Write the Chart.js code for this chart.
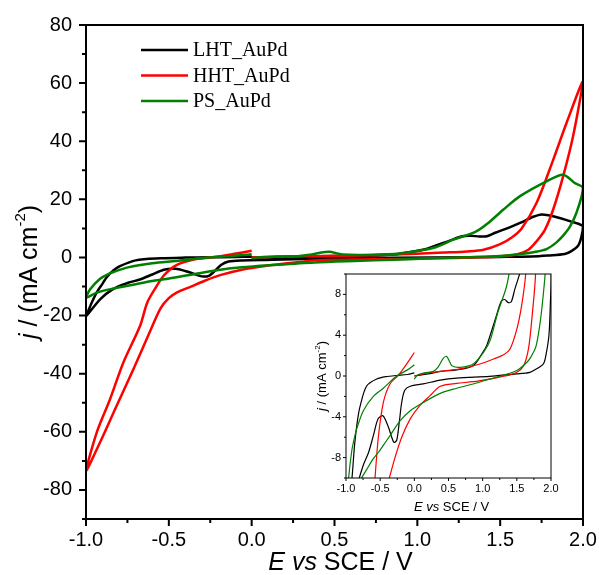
<!DOCTYPE html>
<html>
<head>
<meta charset="utf-8">
<script src="https://cdn.jsdelivr.net/npm/chart.js@4.4.0/dist/chart.umd.min.js"></script>
<style>
  body { margin: 0; background: #fff; }
  #wrap { position: relative; width: 599px; height: 575px; }
  #main { position: absolute; left: 0; top: 0; }
  #inset { position: absolute; left: 296px; top: 266px; background: #fff; }
</style>
</head>
<body>
<div id="wrap">
  <canvas id="main" width="599" height="575"></canvas>
  <canvas id="inset" width="264" height="248"></canvas>
</div>
<script>
// cyclic voltammograms: start at 0 V, scan to 2.0 V, back to -1.0 V, then up to 0 V
const lhtE = [0.0, 0.2, 0.38, 0.62, 0.86, 1.0, 1.06, 1.2, 1.27, 1.32, 1.375, 1.42, 1.47, 1.55, 1.62, 1.7, 1.75, 1.82, 1.92, 2.0,
  1.99, 1.97, 1.93, 1.89, 1.79, 1.69, 1.5, 1.1, 0.62, 0.38, 0.13, -0.06, -0.14, -0.185, -0.22, -0.258, -0.3, -0.38, -0.46, -0.53, -0.6, -0.67, -0.75, -0.835, -0.915, -1.0,
  -0.965, -0.935, -0.9, -0.875, -0.835, -0.795, -0.7, -0.55, -0.4, -0.26, -0.1, 0.0];
const lhtJ = [0.0, 0.2, 0.45, 0.6, 1.0, 2.3, 3.0, 5.9, 7.3, 7.5, 7.2, 7.3, 8.5, 10.2, 11.9, 14.0, 14.8, 14.2, 12.5, 10.7,
  7.0, 4.0, 2.2, 1.2, 0.7, 0.36, 0.2, -0.03, -0.2, -0.4, -0.78, -1.0, -1.4, -2.6, -4.5, -6.3, -6.5, -5.0, -3.9, -4.2, -5.85, -7.5, -8.8, -10.8, -14.4, -20.2,
  -15.5, -12.0, -9.0, -6.8, -4.5, -3.0, -1.0, -0.3, -0.05, 0.05, 0.15, 0.3];

const hhtE = [0.0, 0.2, 0.38, 0.67, 0.96, 1.16, 1.3, 1.4, 1.5, 1.57, 1.63, 1.72, 1.82, 1.9, 2.0,
  1.94, 1.88, 1.82, 1.77, 1.72, 1.67, 1.6, 1.5, 1.35, 1.1, 0.86, 0.62, 0.38, 0.23, 0.08, -0.06, -0.185, -0.283, -0.366, -0.45, -0.5, -0.55, -0.614, -0.714, -0.815, -0.915, -1.0,
  -0.935, -0.855, -0.775, -0.674, -0.63, -0.575, -0.527, -0.454, -0.356, -0.234, -0.112, 0.0];
const hhtJ = [0.0, 0.3, 0.45, 0.69, 1.18, 1.67, 2.06, 2.65, 4.6, 6.9, 10.0, 18.8, 33.6, 46.2, 60.5,
  41.7, 27.9, 16.5, 9.5, 5.6, 2.65, 1.0, 0.36, 0.03, -0.3, -0.56, -0.72, -1.0, -1.93, -2.9, -4.2, -6.0, -8.0, -10.0, -12.0, -14.0, -17.5, -25.5, -38.5, -51.0, -63.6, -73.4,
  -60.2, -48.8, -36.2, -23.6, -15.5, -10.0, -6.0, -2.6, -0.78, 0.07, 1.18, 2.3];

const psE = [0.0, 0.05, 0.15, 0.28, 0.35, 0.42, 0.47, 0.51, 0.55, 0.67, 0.86, 1.01, 1.11, 1.22, 1.35, 1.42, 1.52, 1.62, 1.78, 1.88, 1.95, 2.0,
  1.96, 1.92, 1.88, 1.84, 1.78, 1.7, 1.64, 1.5, 1.3, 1.1, 0.86, 0.62, 0.38, 0.13, -0.06, -0.21, -0.356, -0.454, -0.527, -0.6, -0.7, -0.835, -0.935, -1.0,
  -0.976, -0.915, -0.868, -0.835, -0.746, -0.6, -0.454, -0.258, -0.1, 0.0];
const psJ = [-0.3, 0.1, 0.3, 0.46, 0.9, 1.7, 1.93, 1.5, 1.0, 0.85, 1.18, 2.3, 3.5, 6.2, 8.8, 11.5, 16.5, 21.1, 26.2, 28.5, 25.6, 23.9,
  15.3, 10.5, 7.5, 5.2, 2.9, 1.8, 1.3, 0.53, 0.07, -0.3, -0.78, -1.2, -1.7, -2.6, -3.4, -4.4, -5.85, -6.8, -7.5, -8.1, -9.2, -10.7, -12.1, -13.8,
  -11.0, -7.3, -5.8, -5.0, -3.4, -2.0, -1.2, 0.0, 0.6, 1.1];

const seriesNames = ['LHT_AuPd', 'HHT_AuPd', 'PS_AuPd'];
const seriesColors = ['#000000', '#ff0000', '#008000'];

const mainXTicks = [-1.0, -0.5, 0.0, 0.5, 1.0, 1.5, 2.0];
const mainYTicks = [-80, -60, -40, -20, 0, 20, 40, 60, 80];
const insetXTicks = [-1.0, -0.5, 0.0, 0.5, 1.0, 1.5, 2.0];
const insetYTicks = [-8, -4, 0, 4, 8];

function pairs(e, j) {
  return e.map((v, i) => ({ x: v, y: j[i] }));
}

function makeDatasets(width) {
  const data = [pairs(lhtE, lhtJ), pairs(hhtE, hhtJ), pairs(psE, psJ)];
  return data.map((d, i) => ({
    label: seriesNames[i],
    data: d,
    showLine: true,
    borderColor: seriesColors[i],
    borderWidth: width,
    pointRadius: 0,
    tension: 0.3,
    order: 2 - i
  }));
}

// draw text pieces with different fonts one after another, centred on x
function drawRich(ctx, parts, x, y) {
  let total = 0;
  parts.forEach(p => { ctx.font = p.f; total += ctx.measureText(p.t).width; });
  let cx = x - total / 2;
  ctx.textBaseline = 'middle';
  ctx.textAlign = 'left';
  parts.forEach(p => {
    ctx.font = p.f;
    ctx.fillText(p.t, cx, y + (p.dy || 0));
    cx += ctx.measureText(p.t).width;
  });
}

const frame = {
  id: 'frame',
  afterDraw(chart, args, o) {
    const { ctx, chartArea: a, scales: { x, y } } = chart;
    ctx.save();
    ctx.strokeStyle = '#000';
    ctx.fillStyle = '#000';
    ctx.lineWidth = o.lw;
    ctx.strokeRect(a.left, a.top, a.right - a.left, a.bottom - a.top);
    ctx.beginPath();
    for (let k = 0; x.min + k * o.xMinor <= x.max + 1e-9; k++) {
      const v = x.min + k * o.xMinor;
      const px = x.getPixelForValue(v);
      const len = (k % 2 === 0) ? o.major : o.minor;
      ctx.moveTo(px, a.bottom);
      ctx.lineTo(px, a.bottom + len);
    }
    for (let k = 0; y.min + k * o.yMinor <= y.max + 1e-9; k++) {
      const v = y.min + k * o.yMinor;
      const py = y.getPixelForValue(v);
      const major = Math.abs(v / o.yMajor - Math.round(v / o.yMajor)) < 1e-6;
      ctx.moveTo(a.left, py);
      ctx.lineTo(a.left - (major ? o.major : o.minor), py);
    }
    ctx.stroke();

    const cxMid = (a.left + a.right) / 2 + o.xTitleShift;
    const cyMid = (a.top + a.bottom) / 2;
    const s = o.titleSize;
    const it = 'italic ' + s + 'px "Liberation Sans", Arial, sans-serif';
    const rg = s + 'px "Liberation Sans", Arial, sans-serif';
    const sup = Math.round(s * 0.6) + 'px "Liberation Sans", Arial, sans-serif';
    drawRich(ctx, [{ t: 'E', f: it }, { t: ' ', f: rg }, { t: 'vs', f: it }, { t: ' SCE / V', f: rg }], cxMid, o.xTitleY);
    ctx.translate(o.yTitleX, cyMid);
    ctx.rotate(-Math.PI / 2);
    drawRich(ctx, [{ t: 'j', f: it }, { t: ' / (mA cm', f: rg }, { t: '-2', f: sup, dy: -s * 0.35 }, { t: ')', f: rg }], 0, 0);
    ctx.restore();

    if (o.legend) {
      ctx.save();
      ctx.font = '20px "Liberation Serif", "Times New Roman", serif';
      ctx.textBaseline = 'middle';
      seriesNames.forEach((name, i) => {
        const ly = 50 + i * 25.5;
        ctx.strokeStyle = seriesColors[i];
        ctx.lineWidth = 2.5;
        ctx.beginPath();
        ctx.moveTo(141, ly);
        ctx.lineTo(188, ly);
        ctx.stroke();
        ctx.fillStyle = '#000';
        ctx.fillText(name, 193, ly + 1);
      });
      ctx.restore();
    }
  }
};

function axes(xTicks, yTicks, xr, yr, font, xPad, yPad, xh, yw) {
  const common = {
    type: 'linear',
    grid: { display: false, drawTicks: false, tickLength: 0 },
    border: { display: false }
  };
  return {
    x: Object.assign({}, common, {
      min: xr[0], max: xr[1],
      afterBuildTicks: s => { s.ticks = xTicks.map(v => ({ value: v })); },
      afterFit: s => { s.height = xh; s.paddingLeft = 0; s.paddingRight = 0; },
      ticks: { color: '#000', font: font, padding: xPad, maxRotation: 0, autoSkip: false,
        callback: v => v.toFixed(1) }
    }),
    y: Object.assign({}, common, {
      min: yr[0], max: yr[1],
      afterBuildTicks: s => { s.ticks = yTicks.map(v => ({ value: v })); },
      afterFit: s => { s.width = yw; s.paddingTop = 0; s.paddingBottom = 0; },
      ticks: { color: '#000', font: font, padding: yPad, autoSkip: false,
        callback: v => String(v) }
    })
  };
}

Chart.defaults.font.family = '"Liberation Sans", Arial, sans-serif';

new Chart(document.getElementById('main'), {
  type: 'scatter',
  data: { datasets: makeDatasets(2.5) },
  options: {
    responsive: false,
    animation: false,
    layout: { padding: { left: 0, right: 16, top: 25, bottom: 0 } },
    scales: axes(mainXTicks, mainYTicks, [-1, 2], [-90, 80], { size: 20 }, 9, 14, 56, 86),
    plugins: {
      legend: { display: false },
      tooltip: { enabled: false },
      frame: { lw: 2, major: 7, minor: 4, xMinor: 0.25, yMinor: 10, yMajor: 20,
        titleSize: 25, xTitleY: 563, xTitleShift: 6, yTitleX: 30, legend: true }
    }
  },
  plugins: [frame]
});

new Chart(document.getElementById('inset'), {
  type: 'scatter',
  data: { datasets: makeDatasets(1.2) },
  options: {
    responsive: false,
    animation: false,
    layout: { padding: { left: 0, right: 9, top: 8, bottom: 0 } },
    scales: axes(insetXTicks, insetYTicks, [-1, 2], [-10, 10], { size: 11 }, 4, 5, 36, 50),
    plugins: {
      legend: { display: false },
      tooltip: { enabled: false },
      frame: { lw: 1, major: 3, minor: 2, xMinor: 0.25, yMinor: 2, yMajor: 4,
        titleSize: 13, xTitleY: 241, xTitleShift: 3, yTitleX: 26, legend: false }
    }
  },
  plugins: [frame]
});
</script>
</body>
</html>
